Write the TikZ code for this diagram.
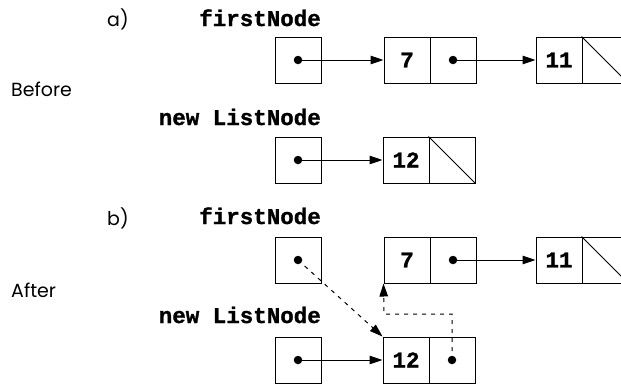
\documentclass[tikz,border=0pt]{standalone}
\usepackage{fontspec}
\setmainfont{Poppins}
\newfontfamily\codefont[BoldFont=Liberation Mono Bold, BoldFeatures={FakeBold=1.2}]{Liberation Mono}
\usetikzlibrary{arrows.meta}

\tikzset{
  cell/.style={draw, line width=1pt, minimum size=46pt, inner sep=0pt,
    font=\codefont\bfseries\fontsize{22.5}{24}\selectfont},
  code/.style={inner sep=0pt, font=\codefont\bfseries\fontsize{22.5}{24}\selectfont},
  sans/.style={inner sep=0pt, font=\fontsize{19}{22}\selectfont},
  dot/.style={circle, fill, inner sep=0pt, minimum size=8.5pt},
  ptr/.style={line width=1pt, -{Triangle[length=13pt,width=8.5pt]}},
  dashptr/.style={line width=1pt, dash pattern=on 4pt off 5pt,
    -{Triangle[length=13pt,width=8.5pt]}},
  nilline/.style={line width=0.8pt}
}

\begin{document}
\begin{tikzpicture}[x=1pt,y=-1pt]
\useasboundingbox (0,0) rectangle (621,383);

% ---------- a) before ----------
\node[sans, anchor=base west] (lbla) at (107,26) {a)};
\node[code, anchor=base east] (fna) at (321,26) {firstNode};
\node[sans, anchor=base west] (before) at (11,96) {Before};
\node[code, anchor=base east] (nla) at (321,125) {new ListNode};

\node[cell] (p1) at (298,60) {};
\node[cell] (v7a) at (407,60) {7};
\node[cell] (x7a) at (453,60) {};
\node[cell] (v11a) at (559,60) {11};
\node[cell] (x11a) at (605,60) {};
\draw[nilline] (x11a.north west) -- (x11a.south east);

\node[cell] (p2) at (298,160) {};
\node[cell] (v12a) at (406,160) {12};
\node[cell] (x12a) at (452,160) {};
\draw[nilline] (x12a.north west) -- (x12a.south east);

\node[dot] (d1) at (p1) {};
\node[dot] (d2) at (x7a) {};
\node[dot] (d3) at (p2) {};
\draw[ptr] (d1.center) -- (v7a.west);
\draw[ptr] (d2.center) -- (v11a.west);
\draw[ptr] (d3.center) -- (v12a.west);

% ---------- b) after ----------
\node[sans, anchor=base west] (lblb) at (107,225) {b)};
\node[code, anchor=base east] (fnb) at (321,224) {firstNode};
\node[sans, anchor=base west] (after) at (11,297) {After};
\node[code, anchor=base east] (nlb) at (321,323) {new ListNode};

\node[cell] (p3) at (298,260) {};
\node[cell] (v7b) at (407,260) {7};
\node[cell] (x7b) at (453,260) {};
\node[cell] (v11b) at (559,260) {11};
\node[cell] (x11b) at (605,260) {};
\draw[nilline] (x11b.north west) -- (x11b.south east);

\node[cell] (p4) at (298,360) {};
\node[cell] (v12b) at (406,360) {12};
\node[cell] (x12b) at (452,360) {};

\node[dot] (d4) at (p3) {};
\node[dot] (d5) at (x7b) {};
\node[dot] (d6) at (p4) {};
\node[dot] (d7) at (x12b) {};
\draw[ptr] (d5.center) -- (v11b.west);
\draw[ptr] (d6.center) -- (v12b.west);

% re-linked pointers after the insertion
\coordinate (turn) at (384,314);
\draw[dashptr] (d4.center) -- (v12b.north west);
\draw[dashptr] (d7.center) |- (turn) -- (v7b.south west);
\end{tikzpicture}
\end{document}
